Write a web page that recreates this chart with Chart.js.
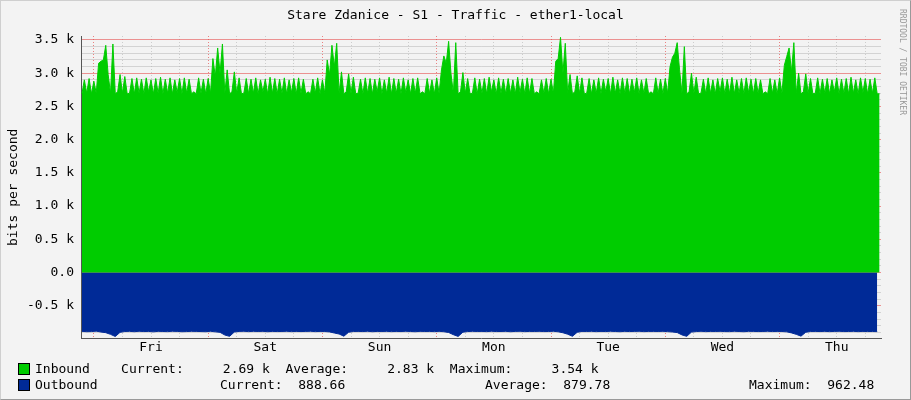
<!DOCTYPE html>
<html>
<head>
<meta charset="utf-8">
<script src="https://cdn.jsdelivr.net/npm/chart.js@4"></script>
<style>
  body { margin: 0; background: #f3f3f3; font-family: "DejaVu Sans Mono", monospace; font-size: 13px; color: #000; }
  #wrap { position: relative; width: 909px; height: 398px; border: 1px solid #cfcfcf; border-right-color: #999; border-bottom-color: #999; }
  #chartBox { position: absolute; left: 0; top: 0; width: 909px; height: 360px; }
  .title { position: absolute; top: 6px; left: 0; width: 909px; text-align: center; }
  .ylab { position: absolute; left: 3px; top: 190px; transform: translate(0,-50%) rotate(-90deg); transform-origin: 0 0; white-space: nowrap; }
  .ylab { left: 4px; top: 245px; transform: rotate(-90deg); }
  .side { position: absolute; left: 906px; top: 8px; transform: rotate(90deg); transform-origin: 0 0; font-size: 8px; color: #999; white-space: nowrap; }
  .leg { position: absolute; white-space: pre; }
  .sw { position: absolute; width: 10px; height: 10px; border: 1px solid #000; }
</style>
</head>
<body>
<div id="wrap">
  <div id="chartBox"><canvas id="traffic"></canvas></div>
  <div class="title">Stare Zdanice - S1 - Traffic - ether1-local</div>
  <div class="ylab">bits per second</div>
  <div class="side">RRDTOOL / TOBI OETIKER</div>
  <div class="sw" style="left:17px;top:362px;background:#00cc00"></div>
  <div class="leg" style="left:34px;top:360px">Inbound    Current:     2.69 k  Average:     2.83 k  Maximum:     3.54 k</div>
  <div class="sw" style="left:17px;top:378px;background:#002a97"></div>
  <div class="leg" style="left:34px;top:376px">Outbound</div>
  <div class="leg" style="left:219px;top:376px">Current:  888.66</div>
  <div class="leg" style="left:484px;top:376px">Average:  879.78</div>
  <div class="leg" style="left:748px;top:376px">Maximum:  962.48</div>
</div>
<script>
/* categorias del eje X: dias a mediodia (horas desde jueves 00:00) */
const dayNames = ["Fri", "Sat", "Sun", "Mon", "Tue", "Wed", "Thu"];
const startHour = -2.5;
const inStep = 0.5;
const outStep = 1;

/* Inbound, cada media hora, bits/s */
const inbound = [
  2690,2900,2700,2920,2690,2880,2700,3150,3180,3200,3420,2980,2700,3440,2690,2720,2980,2700,2950,2690,2700,2920,2690,2930,2700,2910,2690,2930,2720,2900,2690,2920,2700,2940,2690,2910,2700,2930,2690,2900,2710,2920,2690,2930,2700,2910,2690,2720,
  2690,2930,2700,2910,2690,2920,2700,3220,2950,3380,3000,3440,2700,3050,2690,2720,3020,2700,2930,2690,2700,2920,2690,2910,2700,2930,2690,2900,2720,2910,2690,2940,2700,2920,2690,2910,2700,2930,2690,2900,2710,2920,2690,2930,2700,2910,2690,2720,
  2690,2910,2700,2930,2690,2900,2700,3200,2980,3420,3100,3450,2700,3020,2690,2720,2990,2700,2940,2690,2700,2910,2690,2930,2700,2920,2690,2910,2720,2930,2690,2900,2700,2940,2690,2920,2700,2910,2690,2930,2710,2900,2690,2920,2700,2930,2690,2720,
  2690,2920,2700,2900,2690,2930,2700,3050,3260,3150,3480,2990,2700,3460,2690,2720,3010,2700,2920,2690,2700,2930,2690,2910,2700,2920,2690,2940,2720,2900,2690,2930,2700,2910,2690,2920,2700,2900,2690,2940,2710,2910,2690,2930,2700,2920,2690,2720,
  2690,2900,2700,2920,2690,2910,2700,3180,3220,3540,3000,3450,2700,2980,2690,2720,2960,2700,2930,2690,2700,2920,2690,2900,2700,2930,2690,2910,2720,2920,2690,2940,2700,2900,2690,2930,2700,2920,2690,2910,2710,2930,2690,2900,2700,2920,2690,2720,
  2690,2930,2700,2910,2690,2920,2700,3100,3240,3300,3460,3050,2700,3400,2690,2720,3000,2700,2940,2690,2700,2910,2690,2930,2700,2900,2690,2920,2720,2930,2690,2910,2700,2940,2690,2900,2700,2920,2690,2930,2710,2910,2690,2920,2700,2900,2690,2720,
  2690,2920,2700,2900,2690,2930,2700,3120,3250,3380,3020,3460,2700,3000,2690,2720,2990,2700,2920,2690,2700,2930,2690,2910,2700,2920,2690,2900,2720,2930,2690,2910,2700,2920,2690,2940,2700,2900,2690,2930,2710,2920,2690,2910,2700,2930,2690,2690
];

/* Outbound, cada hora, bits/s (negativo) */
const outbound = [
  -885,-890,-888,-882,-895,-905,-930,-962,-900,-887,-885,-890,-884,-888,-886,-892,-885,-887,-889,-884,-886,-890,-888,-885,
  -886,-888,-890,-884,-892,-900,-940,-960,-895,-886,-884,-889,-885,-887,-885,-890,-886,-888,-887,-884,-889,-886,-888,-886,
  -884,-889,-886,-887,-893,-910,-925,-958,-898,-887,-886,-888,-884,-890,-886,-887,-885,-889,-886,-888,-884,-887,-890,-885,
  -887,-886,-889,-885,-890,-902,-935,-961,-897,-888,-885,-887,-886,-889,-884,-888,-887,-885,-890,-886,-884,-889,-886,-887,
  -885,-888,-887,-884,-891,-906,-928,-959,-899,-886,-887,-885,-889,-886,-888,-884,-887,-890,-885,-888,-886,-884,-889,-886,
  -886,-887,-885,-889,-894,-903,-938,-960,-896,-888,-884,-889,-886,-887,-885,-888,-889,-884,-887,-890,-885,-886,-888,-887,
  -884,-888,-886,-887,-892,-908,-930,-957,-898,-887,-886,-888,-885,-889,-886,-884,-888,-887,-885,-889,-886,-888,-887,-889
];

const inData = inbound.map((v, i) => ({ x: startHour + i * inStep, y: v }));
const outData = outbound.map((v, i) => ({ x: startHour + i * outStep, y: v }));

const mono = { family: "DejaVu Sans Mono", size: 13 };

const ctx = document.getElementById("traffic").getContext("2d");
const traffic = new Chart(ctx, {
  type: "line",
  data: {
    datasets: [
      {
        label: "Inbound",
        data: inData,
        borderColor: "#00cc00",
        backgroundColor: "#00cc00",
        borderWidth: 1,
        pointRadius: 0,
        fill: "origin",
      },
      {
        label: "Outbound",
        data: outData,
        borderColor: "#002a97",
        backgroundColor: "#002a97",
        borderWidth: 1,
        pointRadius: 0,
        fill: "origin",
      },
    ],
  },
  options: {
    responsive: true,
    maintainAspectRatio: false,
    animation: false,
    layout: { padding: { top: 35, right: 29, left: 0, bottom: 0 } },
    plugins: { legend: { display: false }, tooltip: { enabled: false } },
    scales: {
      x: {
        type: "linear",
        min: -2.7,
        max: 165.3,
        afterFit: (s) => { s.height = 23; },
        afterBuildTicks: (s) => {
          const t = [];
          for (let h = 0; h <= 165; h += 6) t.push({ value: h });
          s.ticks = t;
        },
        ticks: {
          font: mono,
          color: "#000",
          padding: 2,
          maxRotation: 0,
          autoSkip: false,
          callback: (v) => (v % 24 === 12 ? dayNames[(v - 12) / 24] : ""),
        },
        grid: {
          drawTicks: false,
          color: (c) => (c.tick && c.tick.value % 24 === 0 ? "rgba(230,80,80,0.7)" : "rgba(180,180,180,0.6)"),
          lineWidth: 1,
        },
        border: { color: "#555", dash: [1, 2] },
      },
      y: {
        min: -985,
        max: 3560,
        afterFit: (s) => { s.width = 80; },
        afterBuildTicks: (s) => {
          const t = [];
          for (let v = -900; v <= 3500; v += 100) t.push({ value: v });
          s.ticks = t;
        },
        ticks: {
          font: mono,
          color: "#000",
          padding: 7,
          autoSkip: false,
          callback: (v) => (v % 500 !== 0 ? "" : v === 0 ? "0.0" : (v / 1000).toFixed(1) + " k"),
        },
        grid: {
          drawTicks: false,
          color: (c) => (c.tick && c.tick.value % 500 === 0 ? "rgba(230,80,80,0.6)" : "rgba(180,180,180,0.5)"),
          lineWidth: 1,
        },
        border: { color: "#555" },
      },
    },
  },
});
</script>
</body>
</html>
